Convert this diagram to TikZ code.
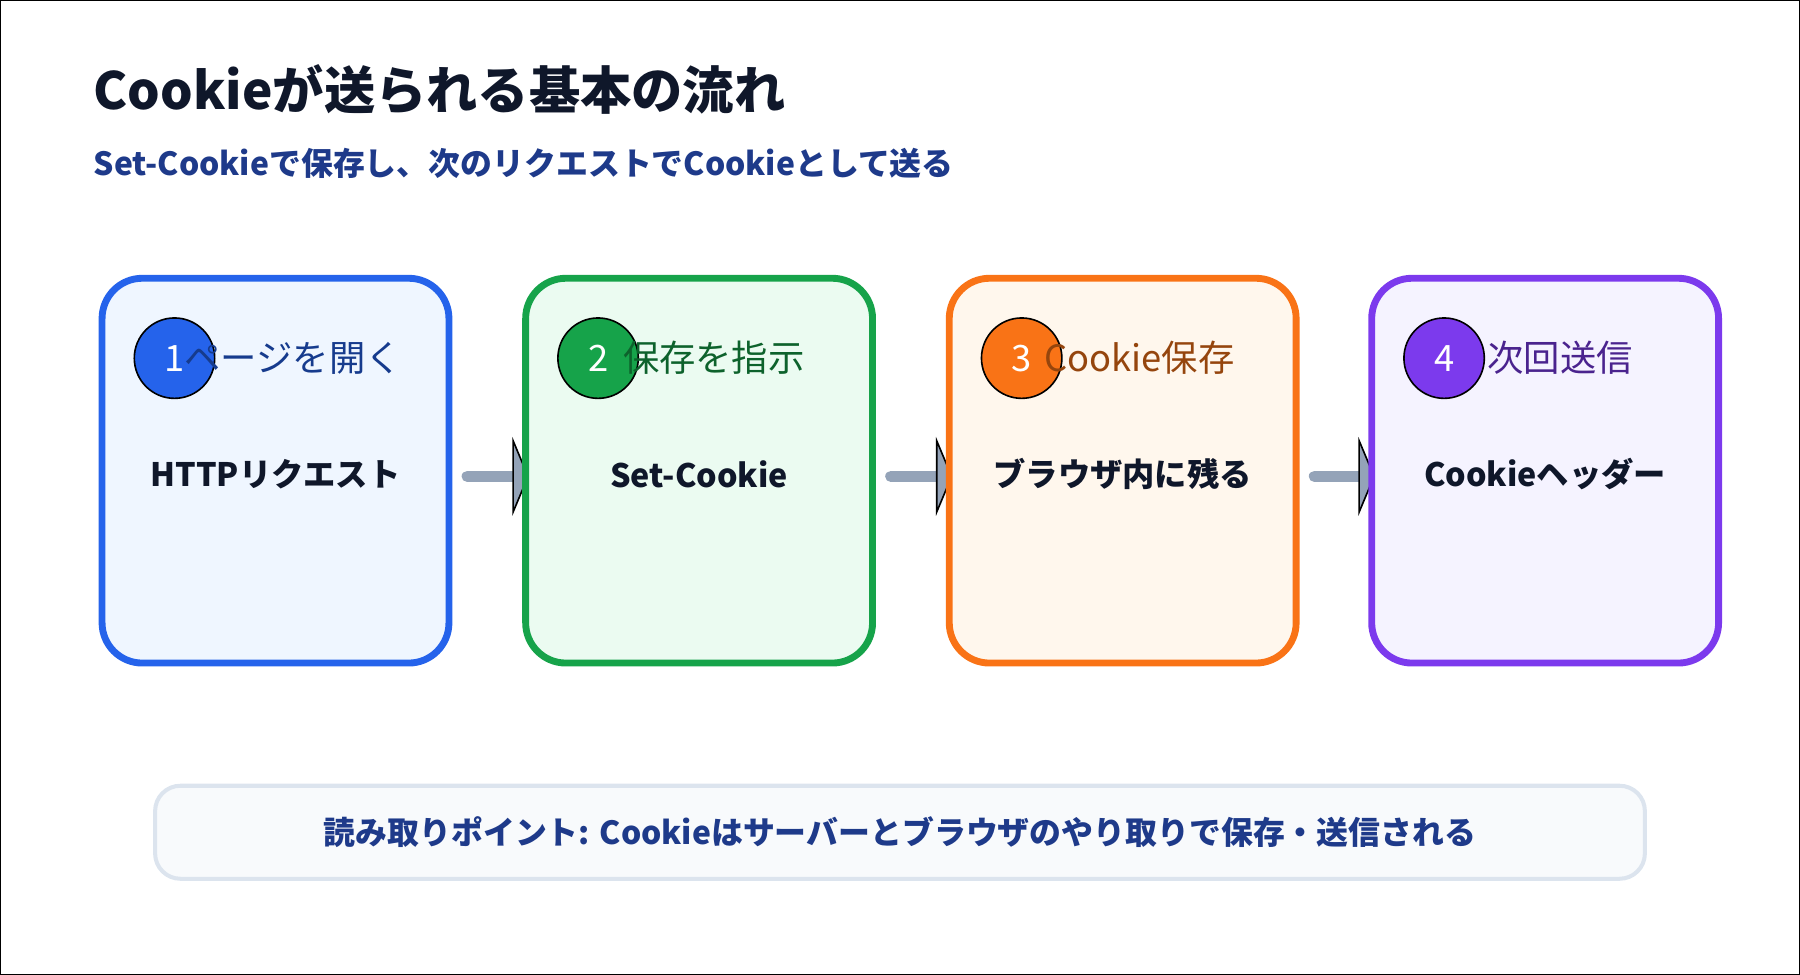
\documentclass[tikz,border=0pt]{standalone}
\usepackage{fontspec}
\setmainfont{Noto Sans CJK JP}
\usetikzlibrary{positioning,arrows.meta}
\definecolor{ink}{HTML}{0F172A}
\definecolor{navy}{HTML}{1E3A8A}
\definecolor{cblue}{HTML}{2563EB}\definecolor{fblue}{HTML}{EFF6FF}
\definecolor{cgreen}{HTML}{16A34A}\definecolor{fgreen}{HTML}{EBFBF1}
\definecolor{corange}{HTML}{F97316}\definecolor{forange}{HTML}{FFF7ED}
\definecolor{cpurple}{HTML}{7C3AED}\definecolor{fpurple}{HTML}{F5F3FF}
\definecolor{arrowgray}{HTML}{94A3B8}
\definecolor{notefill}{HTML}{F8FAFC}\definecolor{noteline}{HTML}{DCE4EE}
\tikzset{
  step/.style={draw=#1, line width=1.7pt, rounded corners=0.35cm,
    minimum width=3.02cm, minimum height=3.35cm},
  badge/.style={circle, draw=black, fill=#1, minimum size=0.7cm, inner sep=0pt,
    text=white, font=\fontsize{9}{10}\selectfont},
  head/.style={anchor=west, inner sep=0pt, font=\fontsize{9}{10}\selectfont},
  body/.style={font=\fontsize{8}{10}\selectfont\bfseries, text=ink},
  link/.style={arrowgray, line width=2.8pt, line cap=round},
}
\begin{document}
\begin{tikzpicture}[x=0.01cm, y=-0.01cm]
  \useasboundingbox (0,0) rectangle (1568,849);
  \draw[black, line width=0.4pt] (0,0) rectangle (1568,849);

  % Title
  \node[anchor=west, inner sep=0pt, text=ink, font=\fontsize{12.7}{14}\selectfont\bfseries] (title) at (81,78) {Cookieが送られる基本の流れ};
  \node[anchor=west, inner sep=0pt, text=navy, font=\fontsize{7.9}{10}\selectfont\bfseries] (subtitle) at (81,142) {Set-Cookieで保存し、次のリクエストでCookieとして送る};

  % Connectors (behind boxes)
  \foreach \xa/\xb in {407/452, 776/821, 1145/1189} {
    \draw[link] (\xa,415) -- (\xb,415);
    \filldraw[fill=arrowgray, draw=black, line width=0.4pt] (\xb-5,384) -- (\xb+8,415) -- (\xb-5,446) -- cycle;
  }

  % Steps
  \foreach \n/\cx/\c/\f/\hd/\off/\bd in {
      1/240/cblue/fblue/ページを開く/8/HTTPリクエスト,
      2/609/cgreen/fgreen/保存を指示/21/Set-Cookie,
      3/978/corange/forange/Cookie保存/19/ブラウザ内に残る,
      4/1346/cpurple/fpurple/次回送信/37/Cookieヘッダー} {
    \node[step=\c, fill=\f] (box\n) at (\cx,410) {};
    \node[badge=\c] (num\n) at (\cx-88,312) {\n};
    \node[head, text=\c!60!black] (lbl\n) at (\cx-88+\off,312) {\hd};
    \node[body] (txt\n) at (\cx,413) {\bd};
  }

  % Note
  \node[draw=noteline, fill=notefill, line width=1pt, rounded corners=0.22cm,
    minimum width=12.97cm, minimum height=0.81cm,
    font=\fontsize{7.9}{10}\selectfont\bfseries, text=navy] (note) at (784,725)
    {読み取りポイント: Cookieはサーバーとブラウザのやり取りで保存・送信される};
\end{tikzpicture}
\end{document}
